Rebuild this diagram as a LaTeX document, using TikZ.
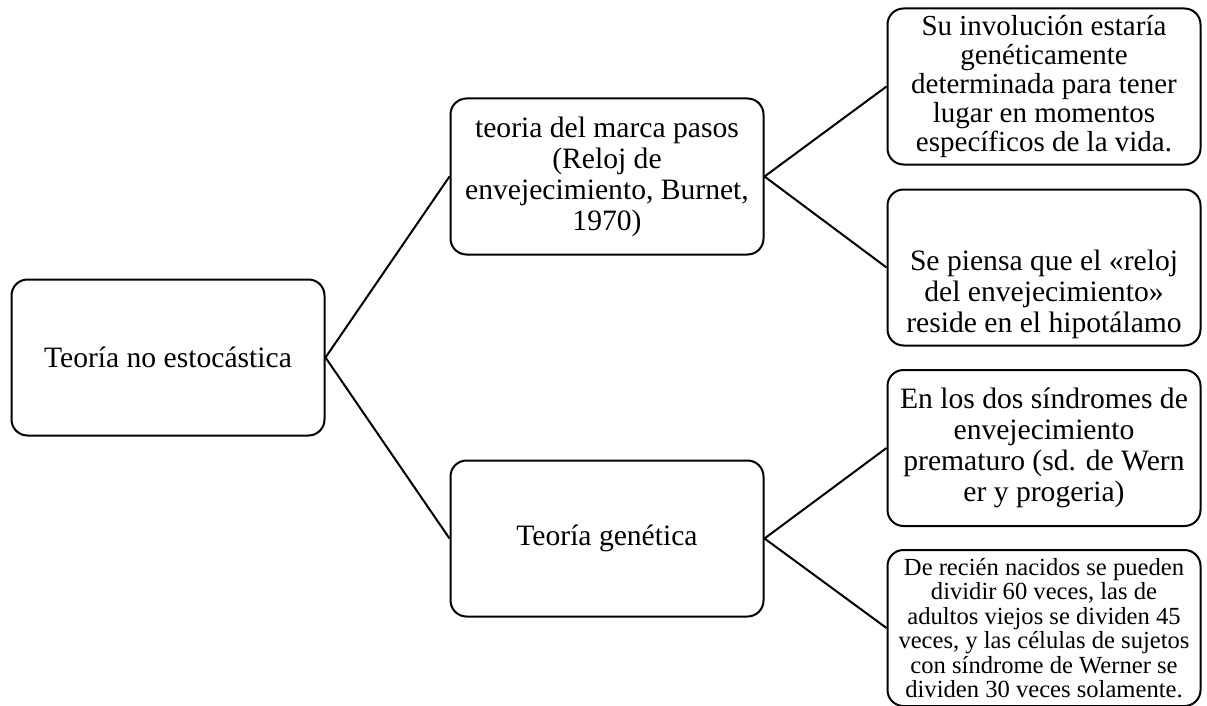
\documentclass[tikz,border=0pt]{standalone}
\usepackage{fontspec}
\setmainfont{Liberation Serif}
\begin{document}
\begin{tikzpicture}[x=1pt, y=-1pt,
		box/.style={draw, line width=2pt, rounded corners=16pt, minimum width=313pt, minimum height=156pt,
			align=center, inner sep=0pt, font=\fontsize{29.6pt}{31pt}\selectfont},
		boxtext/.style={align=center, inner sep=0pt, font=\fontsize{29.6pt}{31pt}\selectfont},
		link/.style={line width=2pt}]
	\useasboundingbox (0, 0) rectangle (1207, 706);

	\node[box] (root) at (168, 357.5) {Teoría no estocástica};

	\node[box] (marca) at (607, 176.5) {teoria del marca pasos\\(Reloj de\\envejecimiento, Burnet,\\1970)};
	\node[box] (genetica) at (607, 538.5) {Teoría genética};

	\node[box, font=\fontsize{29pt}{29pt}\selectfont] (involucion) at (1044, 86.5)
		{Su involución estaría\\genéticamente\\determinada para tener\\lugar en momentos\\específicos de la vida.};
	\node[box] (reloj) at (1044, 267.5) {};
	\node[boxtext] (relojtext) at ([yshift=-27pt]reloj.center)
		{Se piensa que el «reloj\\del envejecimiento»\\reside en el hipotálamo};
	\node[box] (sindromes) at (1044, 448) {En los dos síndromes de\\envejecimiento\\prematuro (sd. de Wern\\er y progeria)};
	\node[box, font=\fontsize{24.6pt}{24.5pt}\selectfont] (celulas) at (1044, 628)
		{De recién nacidos se pueden\\dividir 60 veces, las de\\adultos viejos se dividen 45\\veces, y las células de sujetos\\con síndrome de Werner se\\dividen 30 veces solamente.};

	\foreach \a/\b in {root/marca, root/genetica, marca/involucion, marca/reloj, genetica/sindromes, genetica/celulas}
		\draw[link] (\a.east) -- (\b.west);
\end{tikzpicture}
\end{document}
